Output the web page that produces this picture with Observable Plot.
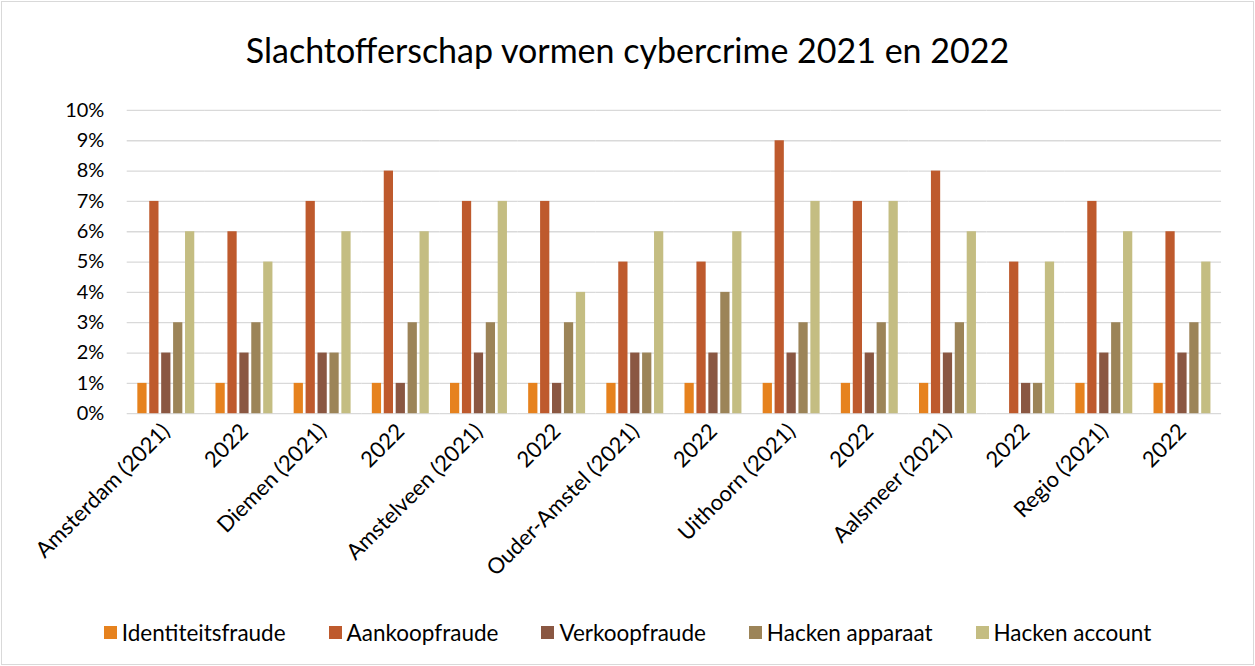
<!DOCTYPE html>
<html>
<head>
<meta charset="utf-8">
<script src="https://cdn.jsdelivr.net/npm/d3@7"></script>
<script src="https://cdn.jsdelivr.net/npm/@observablehq/plot@0.6"></script>
<style>
  html, body { margin: 0; padding: 0; background: #fff; }
  #frame { position: relative; width: 1251px; height: 662px; border: 1px solid #d9d9d9; margin: 1px; background: #fff; font-family: Lato, "Open Sans", sans-serif; color: #000; overflow: hidden; }
  #title { position: absolute; top: 27px; left: 0; width: 100%; text-align: center; font-size: 34px; }
  #chart { position: absolute; top: 84px; left: -1px; }
  #legend { position: absolute; top: 617px; left: 0; width: 100%; display: flex; justify-content: center; gap: 43px; font-size: 22.5px; }
  #legend .item { display: flex; align-items: center; gap: 5px; }
  #legend .sw { width: 13px; height: 13px; display: inline-block; }
  #chart g[aria-label="fx-axis tick label"] { font-size: 22px; }
  #chart g[aria-label="y-axis tick label"] { font-size: 20px; }
</style>
</head>
<body>
<div id="frame">
  <div id="title">Slachtofferschap vormen cybercrime 2021 en 2022</div>
  <div id="chart"></div>
  <div id="legend"></div>
</div>
<script>
const categories = ["Amsterdam (2021)", "2022", "Diemen (2021)", "2022", "Amstelveen (2021)", "2022", "Ouder-Amstel (2021)", "2022", "Uithoorn (2021)", "2022", "Aalsmeer (2021)", "2022", "Regio (2021)", "2022"];
const seriesNames = ["Identiteitsfraude", "Aankoopfraude", "Verkoopfraude", "Hacken apparaat", "Hacken account"];
const identiteitsfraude = [1, 1, 1, 1, 1, 1, 1, 1, 1, 1, 1, 0, 1, 1];
const aankoopfraude     = [7, 6, 7, 8, 7, 7, 5, 5, 9, 7, 8, 5, 7, 6];
const verkoopfraude     = [2, 2, 2, 1, 2, 1, 2, 2, 2, 2, 2, 1, 2, 2];
const hackenApparaat    = [3, 3, 2, 3, 3, 3, 2, 4, 3, 3, 3, 1, 3, 3];
const hackenAccount     = [6, 5, 6, 6, 7, 4, 6, 6, 7, 7, 6, 5, 6, 5];
const colors = ["#E6821E", "#BE5A2D", "#8A5742", "#9C8458", "#C4BD82"];
const yTicks = [0, 1, 2, 3, 4, 5, 6, 7, 8, 9, 10];

const seriesValues = [identiteitsfraude, aankoopfraude, verkoopfraude, hackenApparaat, hackenAccount];
const data = [];
categories.forEach((c, i) => {
  seriesNames.forEach((s, j) => {
    data.push({g: String(i), series: s, value: seriesValues[j][i]});
  });
});

const chart = Plot.plot({
  width: 1255,
  height: 510,
  marginLeft: 126,
  marginRight: 32,
  marginTop: 24,
  marginBottom: 182,
  style: { fontFamily: "Lato, 'Open Sans', sans-serif", fontSize: "20px", color: "#000", background: "transparent" },
  fx: { domain: categories.map((c, i) => String(i)), padding: 0, round: false, tickRotate: -45, tickSize: 0, tickPadding: 14, tickFormat: d => categories[+d], label: null },
  x: { domain: seriesNames, paddingInner: 0.225, paddingOuter: 0.89, round: false, axis: null },
  y: { domain: [0, 10], ticks: yTicks, tickFormat: d => d + "%", tickSize: 0, tickPadding: 23, label: null, grid: false },
  color: { domain: seriesNames, range: colors },
  marks: [
    Plot.ruleY(yTicks, { stroke: "#d9d9d9", strokeWidth: 1.3 }),
    Plot.barY(data, { fx: "g", x: "series", y: "value", fill: "series" })
  ]
});
document.getElementById("chart").appendChild(chart);

const legend = document.getElementById("legend");
seriesNames.forEach((s, j) => {
  const item = document.createElement("div");
  item.className = "item";
  const sw = document.createElement("span");
  sw.className = "sw";
  sw.style.background = colors[j];
  const t = document.createElement("span");
  t.textContent = s;
  item.appendChild(sw);
  item.appendChild(t);
  legend.appendChild(item);
});
</script>
</body>
</html>
